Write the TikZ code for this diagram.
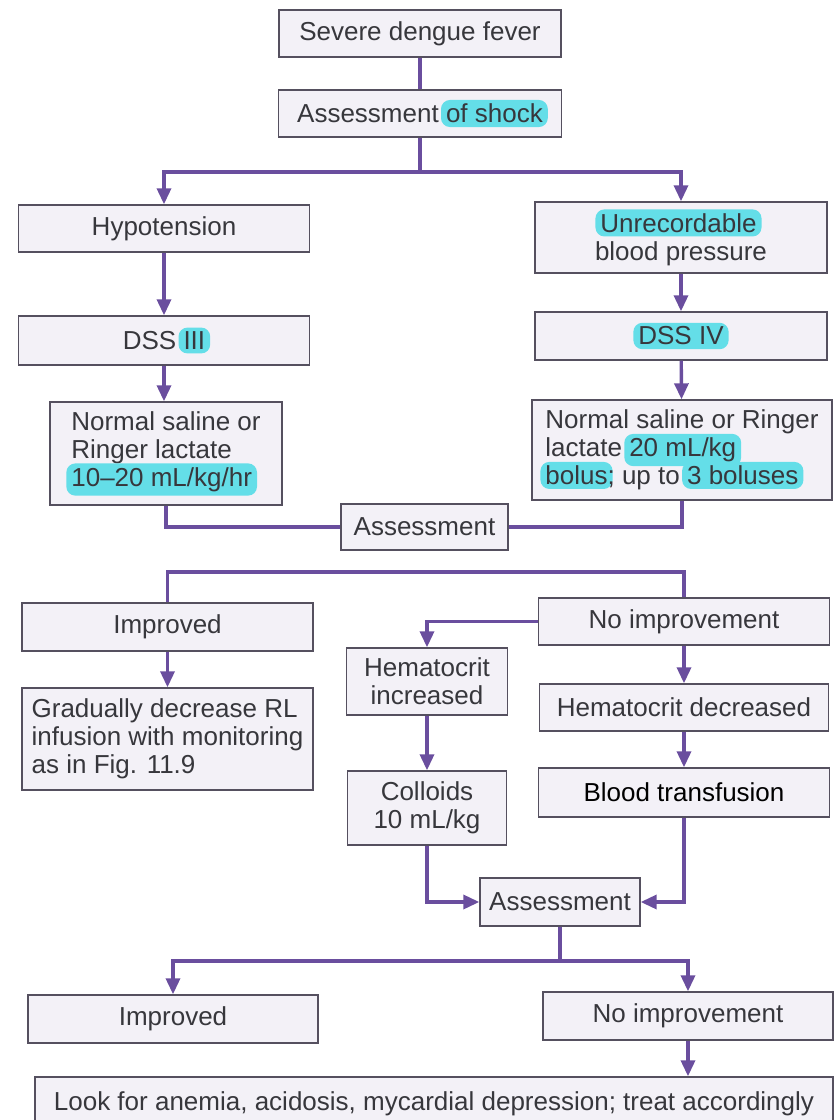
\documentclass[tikz,border=0pt]{standalone}
\usepackage{fontspec}
\setmainfont{Liberation Sans}
\usetikzlibrary{arrows.meta}
\definecolor{boxfill}{RGB}{243,241,247}
\definecolor{boxline}{RGB}{85,80,95}
\definecolor{flow}{RGB}{106,78,158}
\definecolor{marker}{RGB}{100,222,232}
\definecolor{ink}{RGB}{55,55,60}
\newcommand{\hl}[1]{\hspace{-5pt}\tikz[baseline=(hl.base)]\node[fill=marker,draw=none,rounded corners=9pt,inner xsep=5pt,inner ysep=4pt,minimum width=0pt,minimum height=0pt] (hl) {#1};\hspace{-5pt}}
\begin{document}
\begin{tikzpicture}[x=1pt,y=-1pt,
	box/.style={draw=boxline,fill=boxfill,line width=1.4pt,inner sep=0pt,text=ink,align=center,
		font={\fontsize{26}{28}\selectfont\lineskiplimit=-20pt}},
	link/.style={draw=flow,line width=3.4pt},
	arr/.style={link,-{Triangle[length=16pt,width=14pt]}}]
	\useasboundingbox (0,0) rectangle (834,1120);
	\clip (0,0) rectangle (834,1120);
	
	\node (sdf) [box,minimum width=282pt,minimum height=47pt] at (420,33.5) {Severe dengue fever};
	\node (assess1) [box,minimum width=283pt,minimum height=47pt] at (420,113.5) {Assessment \hl{of shock}};
	\node (hypo) [box,minimum width=291pt,minimum height=47pt] at (164,228.5) {Hypotension};
	\node (unrec) [box,minimum width=292pt,minimum height=71pt] at (681,237.5) {\hl{Unrecordable}\\blood pressure};
	\node (dss3) [box,minimum width=291pt,minimum height=49pt] at (164,340.5) {DSS \hl{III}};
	\node (dss4) [box,minimum width=292pt,minimum height=48pt] at (681,336) {\hl{DSS IV}};
	\node (ns1) [box,align=left,minimum width=232pt,minimum height=103pt] at (166,453.5) {Normal saline or\\Ringer lactate\\\hl{10--20 mL/kg/hr}};
	\node (ns2) [box,align=left,minimum width=300pt,minimum height=100pt] at (682,450) {Normal saline or Ringer\\lactate \hl{20 mL/kg}\\\hl{bolus}; up to \hl{3 boluses}};
	\node (assess2) [box,minimum width=167pt,minimum height=46pt] at (424.5,527) {Assessment};
	\coordinate (split1) at (420,172);
	\coordinate (split2) at (425,572);
	
	\node (impr1) [box,minimum width=291pt,minimum height=48pt] at (167.5,627) {Improved};
	\node (noimpr1) [box,minimum width=291pt,minimum height=47pt] at (684,621.5) {No improvement};
	\node (hctup) [box,minimum width=161pt,minimum height=67pt] at (427,681.5) {Hematocrit\\increased};
	\node (grad) [box,align=left,minimum width=291pt,minimum height=102pt] at (167.5,739) {Gradually decrease RL\\infusion with monitoring\\as in Fig. 11.9};
	\node (hctdown) [box,minimum width=289pt,minimum height=47pt] at (684,707.5) {Hematocrit decreased};
	\node (coll) [box,minimum width=159pt,minimum height=74pt] at (427,808) {Colloids\\10 mL/kg};
	\node (blood) [box,text=black,minimum width=291pt,minimum height=49pt] at (684,792.5) {Blood transfusion};
	\node (assess3) [box,minimum width=160pt,minimum height=48pt] at (560,902) {Assessment};
	\coordinate (split3) at (560,961);
	
	\node (impr2) [box,minimum width=290pt,minimum height=48pt] at (173,1019) {Improved};
	\node (noimpr2) [box,minimum width=290pt,minimum height=48pt] at (688,1016) {No improvement};
	\node (look) [box,minimum width=798pt,minimum height=53pt] at (434,1103.5) {Look for anemia, acidosis, mycardial depression; treat accordingly};
	
	\draw [link] (sdf) -- (assess1);
	\draw [link] (assess1) -- (split1);
	\draw [arr] (split1) -| (hypo);
	\draw [arr] (split1) -| (unrec);
	\draw [arr] (hypo) -- (dss3);
	\draw [arr] (unrec) -- (dss4);
	\draw [arr] (dss3.south) -- (dss3.south |- ns1.north);
	\draw [arr] (dss4) -- (ns2);
	\draw [link] (ns1) |- (assess2);
	\draw [link] (ns2) |- (assess2);
	\draw [link] (impr1) |- (split2) -| (noimpr1);
	\draw [arr] (noimpr1) -| (hctup);
	\draw [arr] (impr1) -- (grad);
	\draw [arr] (noimpr1) -- (hctdown);
	\draw [arr] (hctup) -- (coll);
	\draw [arr] (hctdown) -- (blood);
	\draw [arr] (coll) |- (assess3);
	\draw [arr] (blood) |- (assess3);
	\draw [link] (assess3) -- (split3);
	\draw [arr] (split3) -| (impr2);
	\draw [arr] (split3) -| (noimpr2);
	\draw [arr] (noimpr2.south) -- (noimpr2.south |- look.north);
\end{tikzpicture}
\end{document}
